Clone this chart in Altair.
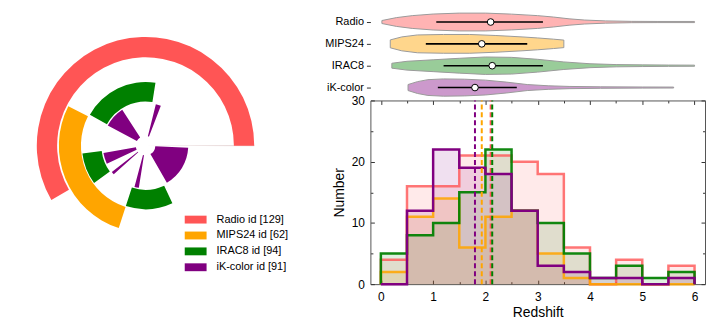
import json
import math
import altair as alt
import pandas as pd

# ---------------- data ----------------
series = ["Radio", "MIPS24", "IRAC8", "iK-color"]
legend_labels = ["Radio id [129]", "MIPS24 id [62]", "IRAC8 id [94]", "iK-color id [91]"]
line_colors = ["#ff5555", "#ffa500", "#008000", "#800080"]
violin_fills = ["#ffb3b3", "#ffd68c", "#99cc99", "#cc99cc"]

bin_edges = [0, 0.5, 1, 1.5, 2, 2.5, 3, 3.5, 4, 4.5, 5, 5.5, 6]
counts_radio = [4, 16, 16, 21, 21, 20, 18, 6, 0, 4, 0, 3]
counts_mips = [2, 11, 14, 6, 11, 12, 5, 1, 0, 0, 0, 0]
counts_irac = [5, 8, 10, 15, 22, 12, 10, 5, 1, 3, 1, 2]
counts_ik = [0, 12, 22, 19, 18, 12, 3, 2, 1, 1, 0, 1]

medians = [2.10, 1.93, 2.13, 1.80]
quart_lo = [1.06, 0.86, 1.20, 1.09]
quart_hi = [3.10, 2.80, 3.10, 2.60]

# violin outlines: redshift and relative density
vz_radio = [0.02, 0.3, 0.6, 1.0, 1.5, 2.0, 2.5, 3.0, 3.3, 3.6, 3.9, 4.3, 4.8, 5.3, 6.0]
vd_radio = [0.16, 0.47, 0.68, 0.85, 0.95, 0.95, 0.84, 0.68, 0.53, 0.34, 0.21, 0.12, 0.07, 0.06, 0.06]
vz_mips = [0.18, 0.4, 0.7, 1.2, 1.7, 2.2, 2.7, 3.0, 3.3, 3.5]
vd_mips = [0.42, 0.74, 0.95, 1.0, 1.0, 0.89, 0.74, 0.63, 0.5, 0.4]
vz_irac = [0.21, 0.5, 1.0, 1.5, 2.0, 2.5, 3.0, 3.5, 4.0, 4.5, 5.0, 5.5, 6.0]
vd_irac = [0.26, 0.47, 0.63, 0.79, 0.93, 0.89, 0.68, 0.4, 0.21, 0.12, 0.09, 0.07, 0.06]
vz_ik = [0.52, 0.7, 0.9, 1.2, 1.6, 2.0, 2.4, 2.8, 3.2, 3.6, 4.2, 5.0, 5.6]
vd_ik = [0.32, 0.63, 0.84, 0.92, 0.89, 0.79, 0.58, 0.32, 0.19, 0.12, 0.08, 0.06, 0.05]

x_ticks = [0, 1, 2, 3, 4, 5, 6]
y_ticks = [0, 10, 20, 30]

# polar panel: segments (series index, start angle, end angle in degrees ccw from east)
arc_series = [0, 1, 2, 2, 2, 3, 3, 3, 3, 3, 3]
arc_from = [0, 153, 81, 187, 252, 123, 69, 190, 218, 255, 300]
arc_to = [210, 252, 151, 216, 295, 152, 76, 205, 222, 261, 357]
ring_inner = [0.813, 0.594, 0.406, 0.09]
ring_outer = [1.0, 0.797, 0.585, 0.393]

FONT = "Liberation Sans"
W, H = 337, 185
VH = 88

# ---------------- left polar panel ----------------
arc_rows = []
for s, a0, a1 in zip(arc_series, arc_from, arc_to):
    t0, t1 = 90 - a1, 90 - a0
    if t0 < 0:
        t0 += 360
        t1 += 360
    arc_rows.append({"label": legend_labels[s], "t0": math.radians(t0), "t1": math.radians(t1),
                     "r_out": ring_outer[s], "r_in": ring_inner[s]})
arc_df = pd.DataFrame(arc_rows)
base_df = pd.DataFrame([{"t0": math.radians(90) - 0.005, "t1": math.radians(90) + 0.005,
                         "r_out": ring_outer[0], "r_in": 0.0}])

rscale = alt.Scale(type="linear", domain=[0, 1], range=[0, 109.5])
baseline = alt.Chart(base_df).mark_arc(color="#e6d6d6").encode(
    theta=alt.Theta("t0:Q", scale=None), theta2="t1:Q",
    radius=alt.Radius("r_out:Q", scale=rscale), radius2="r_in:Q",
)
arcs = alt.Chart(arc_df).mark_arc(strokeWidth=0).encode(
    theta=alt.Theta("t0:Q", scale=None), theta2="t1:Q",
    radius=alt.Radius("r_out:Q", scale=rscale), radius2="r_in:Q",
    color=alt.Color("label:N", scale=alt.Scale(domain=legend_labels, range=line_colors),
                    legend=alt.Legend(title=None, orient="none", legendX=178, legendY=199,
                                      symbolType="M-1,-0.36L1,-0.36L1,0.36L-1,0.36Z",
                                      symbolSize=484, symbolStrokeWidth=0, symbolOpacity=1,
                                      labelFont=FONT, labelFontSize=11, labelColor="black",
                                      labelOffset=10, rowPadding=-6, padding=0)),
)
left = alt.layer(baseline, arcs).properties(width=277, height=271)

# ---------------- violin panel ----------------
vrows = []
for i, (zs, ds) in enumerate([(vz_radio, vd_radio), (vz_mips, vd_mips), (vz_irac, vd_irac), (vz_ik, vd_ik)]):
    for z, d in zip(zs, ds):
        vrows.append({"series": series[i], "idx": i, "z": z, "lo": i - d * 0.43, "hi": i + d * 0.43})
vdf = pd.DataFrame(vrows)
sdf = pd.DataFrame({"series": series, "idx": list(range(4)), "med": medians, "q1": quart_lo, "q3": quart_hi})

vx = alt.Scale(domain=[-0.2, 6.2], nice=False, zero=False)
vy = alt.Scale(domain=[-0.5, 3.5], nice=False, zero=False, reverse=True)
vaxis = alt.Axis(values=[0, 1, 2, 3], labelExpr=json.dumps(series) + "[datum.value]",
                 domain=False, tickSize=4, tickColor="#333", labelPadding=3, labelFontSize=11,
                 title=None, grid=False)

v_area = alt.Chart(vdf).mark_area(orient="vertical", stroke="#9a9a9a", strokeWidth=1, opacity=1).encode(
    x=alt.X("z:Q", scale=vx, axis=None),
    y=alt.Y("lo:Q", scale=vy, axis=vaxis),
    y2="hi:Q",
    fill=alt.Fill("series:N", scale=alt.Scale(domain=series, range=violin_fills), legend=None),
)
v_iqr = alt.Chart(sdf).mark_rule(color="black", strokeWidth=1.6).encode(
    x=alt.X("q1:Q", scale=vx, axis=None), x2="q3:Q",
    y=alt.Y("idx:Q", scale=vy, axis=vaxis),
)
v_med = alt.Chart(sdf).mark_circle(color="white", opacity=1, stroke="black", strokeWidth=1, size=45).encode(
    x=alt.X("med:Q", scale=vx, axis=None),
    y=alt.Y("idx:Q", scale=vy, axis=vaxis),
)
violin = alt.layer(v_area, v_iqr, v_med).properties(width=W, height=VH)

# ---------------- histogram panel ----------------
all_counts = [counts_radio, counts_mips, counts_irac, counts_ik]
fill_rows, line_rows = [], []
for s, counts in zip(series, all_counts):
    pts = [(bin_edges[i], c) for i, c in enumerate(counts)] + [(bin_edges[-1], counts[-1])]
    for x, y in pts:
        fill_rows.append({"series": s, "x": x, "y": y})
    lpts = [(bin_edges[0], 0)] + pts + [(bin_edges[-1], 0)]
    for k, (x, y) in enumerate(lpts):
        line_rows.append({"series": s, "x": x, "y": y, "k": k})
fill_df = pd.DataFrame(fill_rows)
line_df = pd.DataFrame(line_rows)
med_df = pd.DataFrame({"series": series, "med": medians})

hx = alt.Scale(domain=[-0.2, 6.2], nice=False, zero=False)
hy = alt.Scale(domain=[0, 30], nice=False)
cscale = alt.Scale(domain=series, range=line_colors)

x_minor = sorted(x_ticks + [(a + b) / 2 for a, b in zip(x_ticks[:-1], x_ticks[1:])])
y_minor = sorted(y_ticks + [(a + b) / 2 for a, b in zip(y_ticks[:-1], y_ticks[1:])])
xt_size = {"condition": {"test": "datum.value % 1 === 0", "value": 4}, "value": 2.5}
yt_size = {"condition": {"test": "datum.value % 10 === 0", "value": 4}, "value": 2.5}

def inner_axis(orient, offset, values, tsize):
    return alt.Axis(orient=orient, offset=offset, values=values, labels=False, title=None,
                    grid=False, domain=True, domainColor="#555", domainWidth=1,
                    tickColor="#333", tickWidth=1, tickSize=tsize)

h_fill = alt.Chart(fill_df).mark_area(interpolate="step-after", opacity=0.12).encode(
    x=alt.X("x:Q", scale=hx, axis=alt.Axis(orient="bottom", values=x_ticks, ticks=False, tickSize=0,
                                           domain=False, grid=False, labelPadding=7, title="Redshift",
                                           titlePadding=4)),
    y=alt.Y("y:Q", stack=None, scale=hy, axis=alt.Axis(orient="left", values=y_ticks, ticks=False, tickSize=0,
                                                       domain=False, grid=False, labelPadding=6,
                                                       title="Number", titlePadding=5)),
    color=alt.Color("series:N", scale=cscale, legend=None),
)
h_line = alt.Chart(line_df).mark_line(interpolate="step-after", strokeWidth=2.5).encode(
    x=alt.X("x:Q", scale=hx, axis=inner_axis("top", -H, x_minor, xt_size)),
    y=alt.Y("y:Q", scale=hy, axis=inner_axis("right", -W, y_minor, yt_size)),
    color=alt.Color("series:N", scale=cscale, legend=None),
    order=alt.Order("k:Q"),
    opacity=alt.Opacity("series:N", scale=alt.Scale(domain=series, range=[0.8, 1, 1, 1]), legend=None),
)
h_med = alt.Chart(med_df).mark_rule(strokeDash=[5, 3], strokeWidth=2).encode(
    x=alt.X("med:Q", scale=hx, axis=inner_axis("bottom", -H, x_minor, xt_size)),
    y=alt.YDatum(0, scale=hy, axis=inner_axis("left", -W, y_minor, yt_size)),
    y2=alt.datum(30),
    color=alt.Color("series:N", scale=cscale, legend=None),
)
hist = alt.layer(h_fill, h_line, h_med).resolve_axis(x="independent", y="independent").properties(width=W, height=H)

right = alt.vconcat(violin, hist, spacing=2, bounds="flush")

chart = alt.hconcat(left, right, spacing=35).resolve_scale(
    color="independent", fill="independent", opacity="independent"
).properties(
    padding={"left": 0, "top": 2, "right": 0, "bottom": 0}
).configure(font=FONT).configure_view(stroke=None).configure_axis(
    labelFont=FONT, titleFont=FONT, labelColor="black", titleColor="black",
    labelFontSize=12, titleFontSize=14, titleFontWeight="normal"
)

chart.save("out.html", embed_options={"renderer": "svg", "actions": False})
